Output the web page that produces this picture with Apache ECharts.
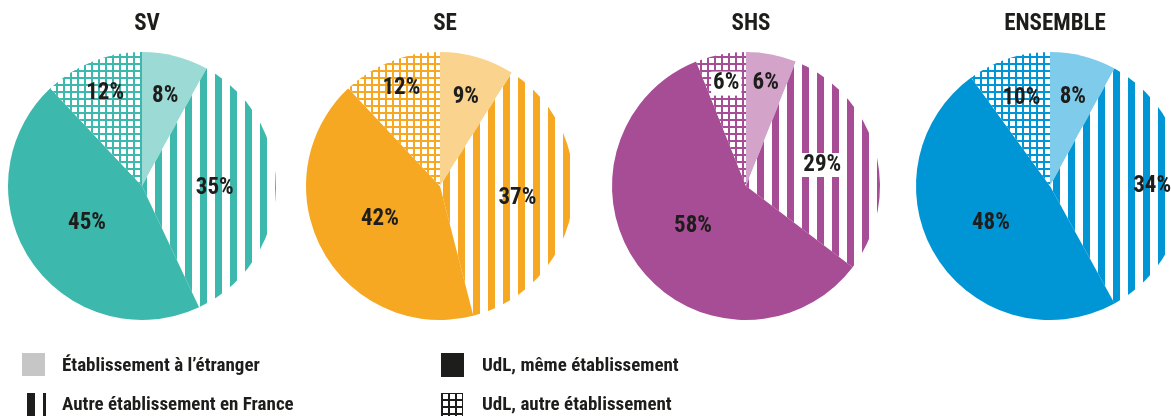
<!DOCTYPE html>
<html>
<head>
<meta charset="utf-8">
<script src="https://cdn.jsdelivr.net/npm/echarts@6/dist/echarts.min.js"></script>
<style>
  html, body { margin: 0; padding: 0; background: #fff; }
  #main { width: 1171px; height: 416px; }
</style>
</head>
<body>
<div id="main"></div>
<script>
  // données
  var titles = ['SV', 'SE', 'SHS', 'ENSEMBLE']
  var categories = ['Établissement à l\u2019étranger', 'Autre établissement en France', 'UdL, même établissement', 'UdL, autre établissement']
  var valSV = [8, 35, 45, 12]
  var valSE = [9, 37, 42, 12]
  var valSHS = [6, 29, 58, 6]
  var valEnsemble = [8, 34, 48, 10]
  var values = [valSV, valSE, valSHS, valEnsemble]

  // mise en page / couleurs
  var FONT = "'Roboto Condensed', 'Liberation Sans Narrow', 'DejaVu Sans Condensed', Roboto, sans-serif"
  var centersX = [142, 440, 746, 1050]
  var centerY = 186
  var R = 134
  var mainColors = ['#3db8ad', '#f6a823', '#a64d96', '#0096d6']
  var lightColors = ['#9cdad5', '#fad48f', '#d4a3c9', '#7ecbeb']
  var stripePhase = [5, 8, 7, 3]
  // distance du label par rapport au placement par défaut (r/2)
  var labelK = [
    [1.33, 1.04, 0.95, 1.43],
    [1.32, 1.12, 0.98, 1.50],
    [1.49, 1.13, 0.95, 1.49],
    [1.31, 1.46, 1.00, 1.32]
  ]
  var labelBox = [
    [false, false, false, false],
    [false, false, false, false],
    [false, true, false, true],
    [false, false, false, false]
  ]

  function stripes(color, phase) {
    var c = document.createElement('canvas')
    c.width = 15
    c.height = 15
    var ctx = c.getContext('2d')
    ctx.fillStyle = '#fff'
    ctx.fillRect(0, 0, 15, 15)
    ctx.fillStyle = color
    for (var x = 0; x < 15; x++) {
      var m = ((x - phase) % 15 + 15) % 15
      if (m < 7) ctx.fillRect(x, 0, 1, 15)
    }
    return { image: c, repeat: 'repeat' }
  }

  function grid(color) {
    var c = document.createElement('canvas')
    c.width = 7
    c.height = 7
    var ctx = c.getContext('2d')
    ctx.fillStyle = color
    ctx.fillRect(0, 0, 7, 7)
    ctx.fillStyle = '#fff'
    ctx.fillRect(2, 2, 5, 5)
    return { image: c, repeat: 'repeat' }
  }

  var series = []
  var titleList = []
  values.forEach(function (vals, i) {
    var fills = [lightColors[i], stripes(mainColors[i], stripePhase[i]), mainColors[i], grid(mainColors[i])]
    var cx = centersX[i]
    titleList.push({
      text: titles[i],
      left: cx,
      top: 8,
      textAlign: 'center',
      textStyle: { fontFamily: FONT, fontWeight: 'bold', fontSize: 23, color: '#1d1d1b' }
    })
    series.push({
      type: 'pie',
      center: [cx, centerY],
      radius: [0, R],
      startAngle: 90,
      clockwise: true,
      silent: true,
      animation: false,
      labelLine: { show: false },
      label: {
        show: true,
        position: 'inside',
        formatter: '{c}%',
        fontFamily: FONT,
        fontWeight: 'bold',
        fontSize: 23,
        color: '#1d1d1b'
      },
      labelLayout: function (p) {
        var r = p.labelRect
        var k = labelK[i][p.dataIndex]
        var lx = r.x + r.width / 2
        var ly = r.y + r.height / 2
        return {
          x: cx + (lx - cx) * k,
          y: centerY + (ly - centerY) * k,
          align: 'center',
          verticalAlign: 'middle'
        }
      },
      data: vals.map(function (v, j) {
        var item = { name: categories[j], value: v, itemStyle: { color: fills[j] } }
        if (labelBox[i][j]) {
          item.label = { backgroundColor: '#fff', padding: [1, 2, 0, 2] }
        }
        return item
      })
    })
  })

  // légende faite à la main
  var legendX = [62, 482]
  var legendY = [366, 405]
  var black = '#1d1d1b'
  var blackGrid = grid(black)
  var legendIcons = [
    [{ type: 'rect', shape: { x: 22, y: 353, width: 23, height: 23 }, style: { fill: '#c6c6c6' } }],
    [
      { type: 'rect', shape: { x: 27, y: 393, width: 8, height: 26 }, style: { fill: black } },
      { type: 'rect', shape: { x: 43, y: 393, width: 3, height: 26 }, style: { fill: black } }
    ],
    [{ type: 'rect', shape: { x: 441, y: 353, width: 23, height: 24 }, style: { fill: black } }],
    [{ type: 'rect', shape: { x: 441, y: 393, width: 22, height: 26 }, style: { fill: blackGrid } }]
  ]
  var graphics = []
  categories.forEach(function (name, j) {
    legendIcons[j].forEach(function (g) { graphics.push(g) })
    graphics.push({
      type: 'text',
      x: legendX[j < 2 ? 0 : 1],
      y: legendY[j % 2],
      style: {
        text: name,
        fill: black,
        font: 'bold 19px ' + FONT,
        textVerticalAlign: 'middle',
        verticalAlign: 'middle'
      }
    })
  })

  var chart = echarts.init(document.getElementById('main'))
  chart.setOption({
    animation: false,
    title: titleList,
    series: series,
    graphic: graphics
  })
  window.addEventListener('resize', function () { chart.resize() })
</script>
</body>
</html>
